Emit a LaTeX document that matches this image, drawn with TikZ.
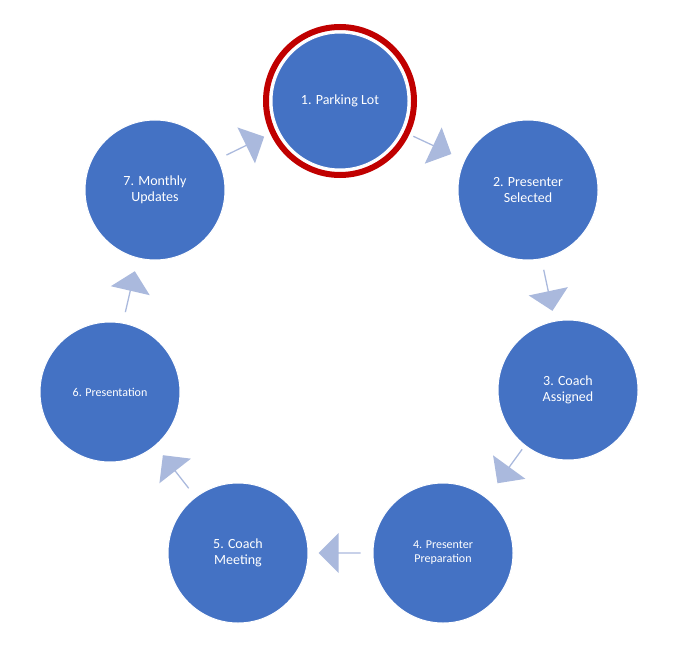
\documentclass[tikz,border=0pt]{standalone}
\usepackage{fontspec}
\setmainfont{Carlito}
\usetikzlibrary{shapes.arrows}
\definecolor{cblue}{HTML}{4472C4}
\definecolor{ablue}{HTML}{AAB9DD}
\definecolor{cred}{HTML}{C00000}
\begin{document}
\begin{tikzpicture}[x=1pt,y=-1pt,
  stepc/.style={circle,fill=cblue,draw=white,line width=1pt,minimum size=140pt,inner sep=0pt,text=white,align=center,font=\fontsize{14}{16}\selectfont},
  smallt/.style={font=\fontsize{12}{14}\selectfont},
  blk/.style={single arrow,fill=ablue,draw=none,minimum height=42pt,minimum width=40pt,single arrow head extend=6pt,inner sep=0pt}]
\useasboundingbox (0,0) rectangle (684,647);
\node[circle,draw=cred,line width=6pt,minimum size=148pt,inner sep=0pt] (ring) at (340,101) {};
\node[stepc,minimum size=136pt] (n1) at (340,101) {1. Parking Lot};
\node[stepc] (n2) at (528,190) {2. Presenter\\Selected};
\node[stepc] (n3) at (568,390) {3. Coach\\Assigned};
\node[stepc,smallt] (n4) at (443,553) {4. Presenter\\Preparation};
\node[stepc] (n5) at (238,553) {5. Coach\\Meeting};
\node[stepc,smallt] (n6) at (110,392) {6. Presentation};
\node[stepc] (n7) at (155,190) {7. Monthly\\Updates};
\node[blk,rotate=-25] (a1) at (432,145) {};
\node[blk,rotate=-78] (a2) at (548,290) {};
\node[blk,rotate=-126] (a3) at (510,466) {};
\node[blk,rotate=180] (a4) at (340,553) {};
\node[blk,rotate=128] (a5) at (176,472) {};
\node[blk,rotate=77] (a6) at (130,292) {};
\node[blk,rotate=26] (a7) at (245,146) {};
\end{tikzpicture}
\end{document}
